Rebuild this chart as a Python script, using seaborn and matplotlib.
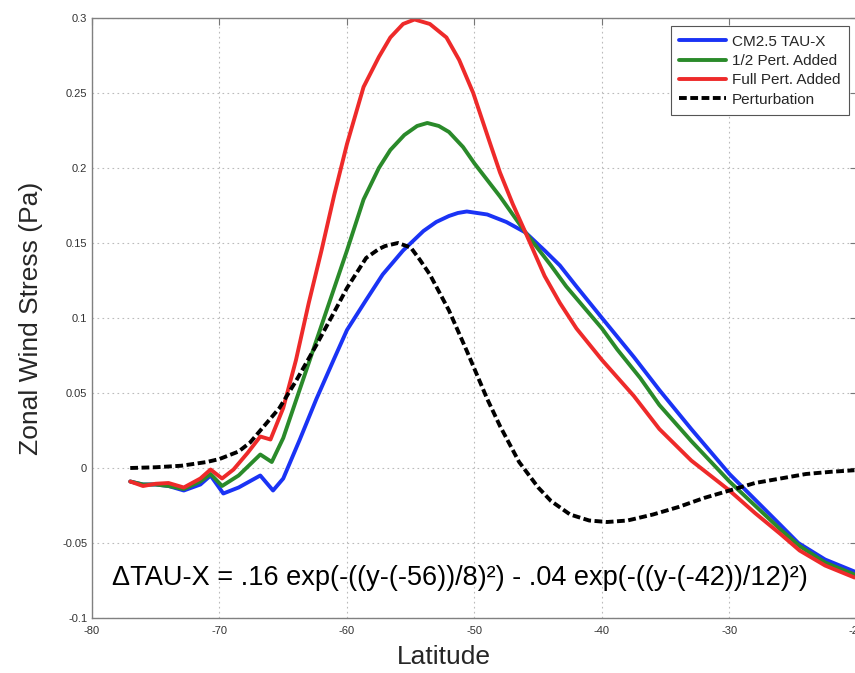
import matplotlib
matplotlib.use("Agg")
import matplotlib.pyplot as plt
import seaborn as sns

# CM2.5 TAU-X (blue)
lat_base = [-77, -76, -75, -74, -72.8, -71.5, -70.7, -69.7, -68.5, -66.8, -65.8, -65,
            -63.7, -62.4, -61, -60, -58.5, -57.2, -55.6, -54, -53, -52, -51.3, -50.6, -49,
            -47.5, -46, -44.5, -43.3, -42, -40, -37.5, -35.5, -33, -30, -28, -26, -24.6,
            -22.5, -20.2]
tau_base = [-0.009, -0.011, -0.011, -0.012, -0.015, -0.011, -0.005, -0.017, -0.013, -0.005,
            -0.015, -0.007, 0.019, 0.046, 0.073, 0.092, 0.112, 0.129, 0.145, 0.158, 0.164,
            0.168, 0.170, 0.171, 0.169, 0.164, 0.157, 0.145, 0.135, 0.121, 0.100, 0.074,
            0.052, 0.026, -0.004, -0.021, -0.038, -0.050, -0.061, -0.069]

# 1/2 perturbation added (green)
lat_half = [-77, -76, -75, -74, -72.8, -71.5, -70.7, -69.8, -68.5, -66.8, -65.9, -65, -64,
            -63, -62, -61, -60, -58.7, -57.5, -56.6, -55.5, -54.5, -53.7, -52.8, -52, -50.9,
            -50, -49, -48, -46, -44, -42.8, -40, -38.8, -37, -35.5, -33, -30, -28, -26,
            -24.5, -22.5, -20.2]
tau_half = [-0.009, -0.011, -0.011, -0.012, -0.014, -0.009, -0.004, -0.012, -0.005, 0.009,
            0.004, 0.020, 0.045, 0.070, 0.095, 0.120, 0.145, 0.179, 0.200, 0.212, 0.222,
            0.228, 0.230, 0.228, 0.224, 0.214, 0.203, 0.192, 0.181, 0.157, 0.135, 0.121,
            0.093, 0.079, 0.060, 0.042, 0.018, -0.009, -0.025, -0.041, -0.052, -0.063, -0.071]

# full perturbation added (red)
lat_full = [-77, -76, -75, -74, -72.8, -71.5, -70.7, -69.8, -68.9, -67.8, -66.8, -66, -65,
            -64, -63, -62, -61, -60, -58.7, -57.5, -56.6, -55.6, -54.7, -53.5, -52.2, -51.2,
            -50.1, -48.8, -48, -47, -46, -44.5, -43.3, -42, -40, -37.5, -35.5, -33, -30,
            -28, -26, -24.5, -22.5, -20.2]
tau_full = [-0.009, -0.012, -0.0105, -0.010, -0.013, -0.007, -0.001, -0.007, -0.001, 0.010,
            0.021, 0.019, 0.040, 0.072, 0.110, 0.145, 0.182, 0.216, 0.254, 0.274, 0.287,
            0.296, 0.299, 0.296, 0.287, 0.272, 0.250, 0.217, 0.197, 0.176, 0.157, 0.128,
            0.110, 0.093, 0.072, 0.048, 0.026, 0.005, -0.015, -0.030, -0.044, -0.055,
            -0.065, -0.073]

# perturbation (black dashed)
lat_pert = [-77, -75, -73, -71, -70, -68.5, -67.6, -66.8, -65.3, -64, -62.4, -61, -60,
            -58.5, -57.5, -57, -56, -55, -54.3, -53.5, -52, -50.6, -49, -48, -46.5, -45,
            -44, -42.5, -41, -39.6, -38, -36, -34, -32, -30, -28, -26, -24, -22, -20.2]
tau_pert = [0.0, 0.0005, 0.0015, 0.004, 0.006, 0.011, 0.017, 0.025, 0.040, 0.058, 0.082,
            0.104, 0.120, 0.140, 0.146, 0.148, 0.150, 0.147, 0.139, 0.129, 0.105, 0.078,
            0.046, 0.028, 0.004, -0.013, -0.022, -0.031, -0.035, -0.036, -0.035, -0.031,
            -0.026, -0.020, -0.015, -0.010, -0.007, -0.004, -0.0025, -0.0015]

labels = ["CM2.5 TAU-X", "1/2 Pert. Added", "Full Pert. Added", "Perturbation"]
colors = ["#1a33f5", "#2a8a2a", "#ee2a2a", "black"]

x_ticks = [-80, -70, -60, -50, -40, -30, -20]
y_ticks = [-0.1, -0.05, 0, 0.05, 0.1, 0.15, 0.2, 0.25, 0.3]
y_tick_labels = ["-0.1", "-0.05", "0", "0.05", "0.1", "0.15", "0.2", "0.25", "0.3"]

formula = "ΔTAU-X = .16 exp(-((y-(-56))/8)²) - .04 exp(-((y-(-42))/12)²)"

sns.set_theme(style="white")
plt.rcParams["font.family"] = ["Liberation Sans", "DejaVu Sans"]
plt.rcParams["axes.unicode_minus"] = False

fig = plt.figure(figsize=(8.55, 6.73), dpi=100)
ax = fig.add_axes([0.1076, 0.0817, 0.8947, 0.8916])

sns.lineplot(x=lat_base, y=tau_base, color=colors[0], linewidth=2.8, label=labels[0], ax=ax)
sns.lineplot(x=lat_half, y=tau_half, color=colors[1], linewidth=2.8, label=labels[1], ax=ax)
sns.lineplot(x=lat_full, y=tau_full, color=colors[2], linewidth=2.8, label=labels[2], ax=ax)
sns.lineplot(x=lat_pert, y=tau_pert, color=colors[3], linewidth=2.8,
             linestyle=(0, (2, 0.9)), label=labels[3], ax=ax)

ax.set_xlim(-80, -20)
ax.set_ylim(-0.1, 0.3)
ax.set_xticks(x_ticks)
ax.set_xticklabels([str(t) for t in x_ticks])
ax.set_yticks(y_ticks)
ax.set_yticklabels(y_tick_labels)
ax.tick_params(direction="in", length=5, width=0.8, color="#777777", labelsize=8,
               labelcolor="#333333", top=True, right=True)
ax.tick_params(axis="x", pad=6)
ax.grid(True, linestyle=(0, (1.5, 3)), color="#bbbbbb", linewidth=0.8)
for sp in ax.spines.values():
    sp.set_color("#808080")
    sp.set_linewidth(1.0)

ax.set_xlabel("Latitude", fontsize=19)
ax.xaxis.set_label_coords(0.46, -0.045)
ax.set_ylabel("Zonal Wind Stress (Pa)", fontsize=19, labelpad=14)

ax.text(-78.4, -0.0733, formula, fontsize=19.5, ha="left", va="center", color="black")

leg = ax.legend(loc="upper right", fontsize=11, handlelength=3.1, handletextpad=0.35,
                borderpad=0.55, borderaxespad=0.55, fancybox=False, framealpha=1,
                labelspacing=0.35)
leg.get_frame().set_edgecolor("#555555")
leg.get_frame().set_linewidth(0.8)

fig.savefig("out.png", dpi=100)
